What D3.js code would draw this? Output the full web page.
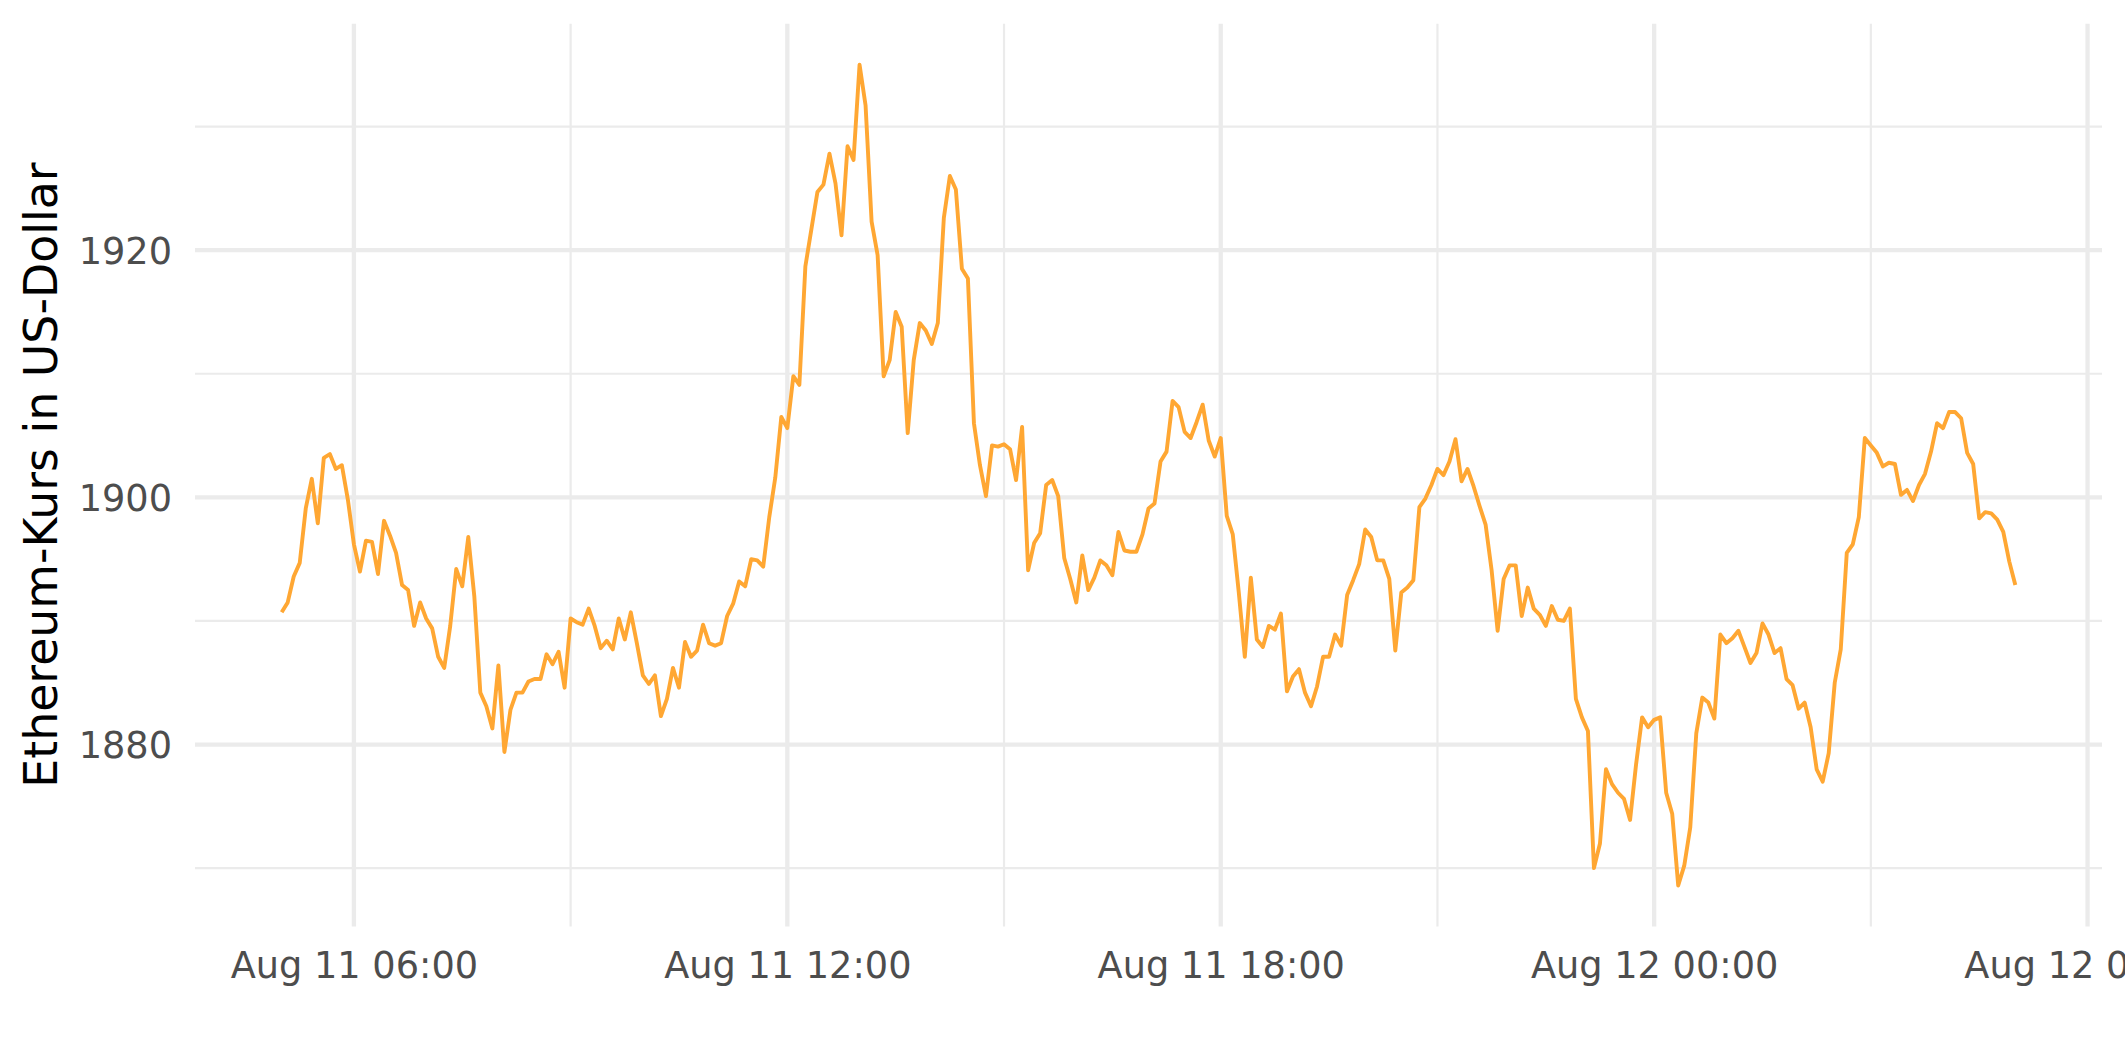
<!DOCTYPE html>
<html>
<head>
<meta charset="utf-8">
<script src="https://cdn.jsdelivr.net/npm/d3@7"></script>
<style>
html, body { margin: 0; padding: 0; background: #ffffff; }
svg { display: block; }
</style>
</head>
<body>
<svg id="chart" width="2125" height="1062"></svg>
<script>
// ---------------- data ----------------
const yTitle = "Ethereum-Kurs in US-Dollar";
const startTime = "2022-08-11T05:00:00Z";   // first sample
const stepMinutes = 5;                      // sampling interval
const prices = [
  1890.7, 1891.5, 1893.6, 1894.7, 1899.1, 1901.5, 1897.9, 1903.2, 1903.5, 1902.3,
  1902.6, 1899.8, 1896.2, 1894.0, 1896.5, 1896.4, 1893.8, 1898.1, 1896.9, 1895.5,
  1892.9, 1892.5, 1889.6, 1891.5, 1890.2, 1889.4, 1887.1, 1886.2, 1889.6, 1894.2,
  1892.8, 1896.8, 1892.0, 1884.2, 1883.1, 1881.3, 1886.4, 1879.4, 1882.8, 1884.2,
  1884.2, 1885.1, 1885.3, 1885.3, 1887.3, 1886.5, 1887.5, 1884.6, 1890.2, 1889.9,
  1889.7, 1891.0, 1889.6, 1887.8, 1888.4, 1887.7, 1890.2, 1888.5, 1890.7, 1888.2,
  1885.6, 1884.9, 1885.6, 1882.3, 1883.7, 1886.2, 1884.6, 1888.3, 1887.1, 1887.6,
  1889.7, 1888.2, 1888.0, 1888.2, 1890.4, 1891.4, 1893.2, 1892.8, 1895.0, 1894.9,
  1894.4, 1898.4, 1901.6, 1906.5, 1905.6, 1909.8, 1909.1, 1918.7, 1921.7, 1924.7,
  1925.3, 1927.8, 1925.4, 1921.2, 1928.4, 1927.3, 1935.0, 1931.7, 1922.3, 1919.6,
  1909.8, 1911.1, 1915.0, 1913.8, 1905.2, 1911.1, 1914.1, 1913.5, 1912.4, 1914.1,
  1922.6, 1926.0, 1924.9, 1918.5, 1917.7, 1906.0, 1902.6, 1900.1, 1904.2, 1904.1,
  1904.3, 1903.9, 1901.4, 1905.7, 1894.1, 1896.3, 1897.1, 1901.0, 1901.4, 1900.1,
  1895.1, 1893.4, 1891.5, 1895.3, 1892.5, 1893.5, 1894.9, 1894.5, 1893.7, 1897.2,
  1895.7, 1895.6, 1895.6, 1897.0, 1899.1, 1899.5, 1902.9, 1903.7, 1907.8, 1907.3,
  1905.3, 1904.8, 1906.1, 1907.5, 1904.6, 1903.3, 1904.8, 1898.5, 1897.0, 1892.3,
  1887.1, 1893.5, 1888.5, 1887.9, 1889.6, 1889.3, 1890.6, 1884.3, 1885.5, 1886.1,
  1884.2, 1883.1, 1884.7, 1887.1, 1887.1, 1888.9, 1888.0, 1892.1, 1893.3, 1894.6,
  1897.4, 1896.8, 1894.9, 1894.9, 1893.4, 1887.6, 1892.3, 1892.7, 1893.3, 1899.2,
  1899.9, 1901.0, 1902.3, 1901.8, 1902.9, 1904.7, 1901.3, 1902.3, 1900.9, 1899.3,
  1897.8, 1894.1, 1889.2, 1893.4, 1894.5, 1894.5, 1890.4, 1892.7, 1891.0, 1890.5,
  1889.6, 1891.2, 1890.1, 1890.0, 1891.0, 1883.7, 1882.2, 1881.1, 1870.0, 1872.0,
  1878.0, 1876.8, 1876.1, 1875.6, 1873.9, 1878.4, 1882.2, 1881.4, 1882.0, 1882.2,
  1876.1, 1874.4, 1868.6, 1870.2, 1873.3, 1880.9, 1883.8, 1883.4, 1882.1, 1888.9,
  1888.2, 1888.6, 1889.2, 1887.9, 1886.6, 1887.4, 1889.8, 1888.9, 1887.4, 1887.8,
  1885.3, 1884.8, 1882.9, 1883.4, 1881.4, 1878.0, 1877.0, 1879.3, 1885.0, 1887.7,
  1895.5, 1896.2, 1898.4, 1904.8, 1904.2, 1903.6, 1902.5, 1902.8, 1902.7, 1900.2,
  1900.6, 1899.7, 1901.0, 1901.9, 1903.7, 1906.0, 1905.6, 1906.9, 1906.9, 1906.4,
  1903.6, 1902.7, 1898.3, 1898.8, 1898.7, 1898.2, 1897.2, 1894.8, 1892.9
];
const yMajorTicks = [1880, 1900, 1920];
const yMinorTicks = [1870, 1890, 1910, 1930];
const xMajorTicks = ["2022-08-11T06:00:00Z", "2022-08-11T12:00:00Z", "2022-08-11T18:00:00Z",
                     "2022-08-12T00:00:00Z", "2022-08-12T06:00:00Z"];
const xMinorTicks = ["2022-08-11T09:00:00Z", "2022-08-11T15:00:00Z", "2022-08-11T21:00:00Z",
                     "2022-08-12T03:00:00Z"];

// ---------------- build ----------------
const t0 = new Date(startTime).getTime();
const series = prices.map((p, i) => ({ t: new Date(t0 + i * stepMinutes * 60000), v: p }));

const panel = { left: 195, right: 2102, top: 23.7, bottom: 926.5 };

const tExt = d3.extent(series, d => d.t.getTime());
const tPad = (tExt[1] - tExt[0]) * 0.05;
const x = d3.scaleUtc()
  .domain([new Date(tExt[0] - tPad), new Date(tExt[1] + tPad)])
  .range([panel.left, panel.right]);

const vExt = d3.extent(series, d => d.v);
const vPad = (vExt[1] - vExt[0]) * 0.05;
const y = d3.scaleLinear()
  .domain([vExt[0] - vPad, vExt[1] + vPad])
  .range([panel.bottom, panel.top]);

const svg = d3.select("#chart");
svg.append("rect").attr("width", 2125).attr("height", 1062).attr("fill", "#ffffff");

const grid = svg.append("g");
const gridColor = "#EBEBEB";

// minor grid
grid.selectAll("line.yminor").data(yMinorTicks).join("line")
  .attr("x1", panel.left).attr("x2", panel.right)
  .attr("y1", d => y(d)).attr("y2", d => y(d))
  .attr("stroke", gridColor).attr("stroke-width", 2.2);
grid.selectAll("line.xminor").data(xMinorTicks).join("line")
  .attr("x1", d => x(new Date(d))).attr("x2", d => x(new Date(d)))
  .attr("y1", panel.top).attr("y2", panel.bottom)
  .attr("stroke", gridColor).attr("stroke-width", 2.2);

// major grid
grid.selectAll("line.ymajor").data(yMajorTicks).join("line")
  .attr("x1", panel.left).attr("x2", panel.right)
  .attr("y1", d => y(d)).attr("y2", d => y(d))
  .attr("stroke", gridColor).attr("stroke-width", 4.3);
grid.selectAll("line.xmajor").data(xMajorTicks).join("line")
  .attr("x1", d => x(new Date(d))).attr("x2", d => x(new Date(d)))
  .attr("y1", panel.top).attr("y2", panel.bottom)
  .attr("stroke", gridColor).attr("stroke-width", 4.3);

// line
const line = d3.line().x(d => x(d.t)).y(d => y(d.v));
svg.append("path").datum(series)
  .attr("d", line)
  .attr("fill", "none")
  .attr("stroke", "#FFA733")
  .attr("stroke-width", 3.9)
  .attr("stroke-linejoin", "round");

// axes (ggplot theme_minimal style: no axis lines, no ticks)
const fmt = d3.utcFormat("%b %d %H:%M");
const yAxis = d3.axisLeft(y).tickValues(yMajorTicks).tickSize(0).tickPadding(0)
  .tickFormat(d3.format("d"));
const gy = svg.append("g").attr("transform", `translate(${panel.left - 23},0)`).call(yAxis);
gy.select(".domain").remove();
gy.selectAll("text")
  .attr("font-family", "DejaVu Sans")
  .attr("font-size", 36.7)
  .attr("fill", "#4D4D4D")
  .attr("dy", "0.36em");

const xAxis = d3.axisBottom(x).tickValues(xMajorTicks.map(d => new Date(d)))
  .tickSize(0).tickPadding(0).tickFormat(fmt);
const gx = svg.append("g").attr("transform", `translate(0,${panel.bottom + 24})`).call(xAxis);
gx.select(".domain").remove();
gx.selectAll("text")
  .attr("font-family", "DejaVu Sans")
  .attr("font-size", 36.7)
  .attr("fill", "#4D4D4D")
  .attr("dy", "0.76em");

// y title
svg.append("text")
  .attr("transform", `translate(57,${(panel.top + panel.bottom) / 2}) rotate(-90)`)
  .attr("text-anchor", "middle")
  .attr("font-family", "DejaVu Sans")
  .attr("font-size", 45.8)
  .attr("fill", "#000000")
  .text(yTitle);
</script>
</body>
</html>
